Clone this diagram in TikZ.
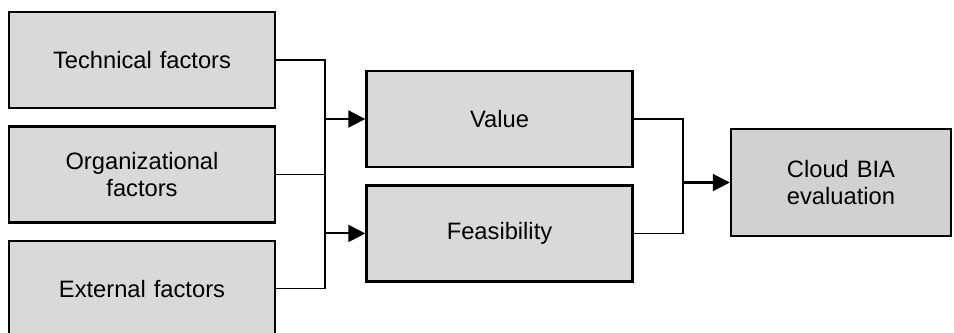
\documentclass[tikz,border=0pt]{standalone}
\usepackage{fontspec}
\setmainfont{Liberation Sans}
\usetikzlibrary{arrows.meta, positioning}
\definecolor{boxgray}{HTML}{D9D9D9}
\definecolor{resultgray}{HTML}{D2D1D2}
\tikzstyle{factor} = [
	rectangle,
	minimum width=5.32cm,
	minimum height=1.92cm,
	text width=4.6cm,
	align=center,
	draw=black,
	line width=1.4pt,
	fill=boxgray,
	font=\fontsize{13.5}{15.5}\selectfont
]
\tikzstyle{result} = [
	factor,
	minimum width=4.4cm,
	minimum height=2.14cm,
	text width=3.8cm,
	fill=resultgray
]
\tikzstyle{link} = [line width=0.6pt]
\tikzstyle{arrow} = [line width=1.2pt,-{Triangle[length=0.34cm,width=0.34cm]}]

\begin{document}
\begin{tikzpicture}[x=0.02cm, y=-0.02cm, node distance=0.32cm]

		\useasboundingbox (0,0) rectangle (954,332);

		\node (technical) [factor] at (142,60) {Technical factors};
		\node (organizational) [factor, below=of technical] {Organizational\\factors};
		\node (external) [factor, below=of organizational] {External factors};

		\node (value) [factor] at (499.5,119) {Value};
		\node (feasibility) [factor, below=of value] {Feasibility};

		\node (cloudbia) [result] at (841,182.5) {Cloud BIA\\evaluation};

		\coordinate (lefttrunk) at (325,0);
		\coordinate (righttrunk) at (683,0);

		\draw [link] (technical.east) -| (lefttrunk |- external.east) -- (external.east);
		\draw [link] (organizational.east) -- (organizational.east -| lefttrunk);
		\draw [arrow] (lefttrunk |- value.west) -- (value.west);
		\draw [arrow] (lefttrunk |- feasibility.west) -- (feasibility.west);

		\draw [link] (value.east) -| (righttrunk |- feasibility.east) -- (feasibility.east);
		\draw [arrow] (righttrunk |- cloudbia.west) -- (cloudbia.west);

	\end{tikzpicture}
\end{document}
